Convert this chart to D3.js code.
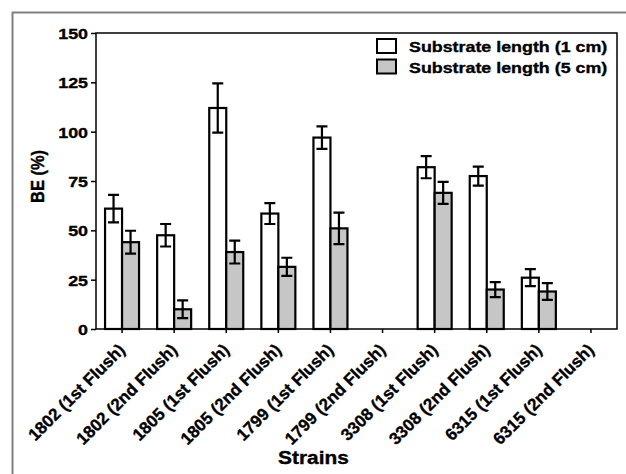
<!DOCTYPE html>
<html>
<head>
<meta charset="utf-8">
<script src="https://cdn.jsdelivr.net/npm/d3@7"></script>
<style>
  body { margin: 0; background: #fff; }
  text { font-family: "Liberation Sans", Arial, sans-serif; font-weight: bold; fill: #000; stroke: #000; stroke-width: 0.35px; }
</style>
</head>
<body>
<div id="visualization"></div>
<script>
var strains = ['1802 (1st Flush)', '1802 (2nd Flush)', '1805 (1st Flush)', '1805 (2nd Flush)',
  '1799 (1st Flush)', '1799 (2nd Flush)', '3308 (1st Flush)', '3308 (2nd Flush)',
  '6315 (1st Flush)', '6315 (2nd Flush)']
var series = ['Substrate length (1 cm)', 'Substrate length (5 cm)']
var len1 = [61, 47.5, 112, 58.5, 97, null, 82, 77.5, 26, null]
var err1 = [7, 5.7, 12.5, 5.3, 5.7, null, 5.6, 4.8, 4.3, null]
var len5 = [44, 10, 39, 31.5, 51, null, 69, 20, 19, null]
var err5 = [5.8, 4.5, 5.8, 4.6, 8, null, 5.6, 3.8, 4.2, null]
var yTicks = [0, 25, 50, 75, 100, 125, 150]

var colors = ['#ffffff', '#c6c6c6']
var sx = 1.16 // the picture's text is a little wider than it is tall

var width = 626
var height = 474
var plotLeft = 96
var plotRight = 617
var plotTop = 33
var plotBottom = 329

var svg = d3.select('#visualization')
  .append('svg')
  .attr('width', width)
  .attr('height', height)

// outer frame, only the top and left edges show
svg.append('path')
  .attr('d', 'M12.5,' + height + 'V12.5H' + width)
  .attr('fill', 'none')
  .attr('stroke', '#808080')
  .attr('stroke-width', 2)

var x = d3.scaleBand()
  .domain(strains)
  .range([plotLeft, plotRight])
  .padding(0)

var y = d3.scaleLinear()
  .domain([0, 150])
  .range([plotBottom, plotTop])

var barW = 17

var rows = strains.map(function (s, i) {
  return [
    {key: s, k: 0, value: len1[i], err: err1[i]},
    {key: s, k: 1, value: len5[i], err: err5[i]}
  ]
})
var bars = [].concat.apply([], rows).filter(function (d) { return d.value != null })

function barX (d) {
  var c = x(d.key) + x.bandwidth() / 2
  return d.k == 0 ? c - barW : c
}

var g = svg.append('g')

g.selectAll('.bar')
  .data(bars)
  .enter()
  .append('rect')
  .attr('class', 'bar')
  .attr('x', barX)
  .attr('y', function (d) { return y(d.value) })
  .attr('width', barW)
  .attr('height', function (d) { return y(0) - y(d.value) })
  .attr('fill', function (d) { return colors[d.k] })
  .attr('stroke', '#000')
  .attr('stroke-width', 2.2)

var errs = g.selectAll('.err')
  .data(bars)
  .enter()
  .append('g')
  .attr('class', 'err')
  .attr('stroke', '#000')
  .attr('stroke-width', 2.2)
  .attr('fill', 'none')

errs.append('path')
  .attr('d', function (d) {
    var cx = barX(d) + barW / 2
    var y1 = y(d.value + d.err)
    var y0 = y(d.value - d.err)
    return 'M' + cx + ',' + y0 + 'V' + y1 +
      'M' + (cx - 5.5) + ',' + y1 + 'H' + (cx + 5.5) +
      'M' + (cx - 5.5) + ',' + y0 + 'H' + (cx + 5.5)
  })

// plot box
svg.append('rect')
  .attr('x', plotLeft)
  .attr('y', plotTop)
  .attr('width', plotRight - plotLeft)
  .attr('height', plotBottom - plotTop)
  .attr('fill', 'none')
  .attr('stroke', '#000')
  .attr('stroke-width', 1.5)

var yAxis = svg.append('g')
  .attr('transform', 'translate(' + plotLeft + ',0)')
  .call(d3.axisLeft(y).tickValues(yTicks).tickSize(5).tickPadding(3))
yAxis.select('.domain').remove()
yAxis.selectAll('line').attr('stroke', '#000').attr('stroke-width', 1.5)
yAxis.selectAll('text')
  .attr('x', null)
  .attr('dy', null)
  .attr('transform', 'translate(-8,5.5) scale(' + sx + ',1)')
  .style('font-size', '15.4px')
  .style('font-family', '"Liberation Sans", Arial, sans-serif')

var xAxis = svg.append('g')
  .attr('transform', 'translate(0,' + plotBottom + ')')
  .call(d3.axisBottom(x).tickSize(4).tickPadding(0))
xAxis.select('.domain').remove()
xAxis.selectAll('line').attr('stroke', '#000').attr('stroke-width', 1.5)
xAxis.selectAll('text')
  .attr('y', null)
  .attr('dy', null)
  .attr('text-anchor', 'end')
  .attr('transform', 'translate(4,22) rotate(-45)')
  .style('font-size', '17px')
  .style('font-family', '"Liberation Sans", Arial, sans-serif')

svg.append('text')
  .attr('text-anchor', 'middle')
  .attr('transform', 'translate(313.5,464) scale(' + sx + ',1)')
  .style('font-size', '18px')
  .text('Strains')

svg.append('text')
  .attr('text-anchor', 'middle')
  .attr('transform', 'translate(44,176.5) scale(' + sx + ',1) rotate(-90)')
  .style('font-size', '16.4px')
  .text('BE (%)')

var legend = svg.selectAll('.legend')
  .data(series)
  .enter()
  .append('g')
  .attr('class', 'legend')
  .attr('transform', function (d, i) {
    return 'translate(377,' + (39 + i * 20.5) + ')'
  })

legend.append('rect')
  .attr('width', 19)
  .attr('height', 14)
  .attr('fill', function (d, i) { return colors[i] })
  .attr('stroke', '#000')
  .attr('stroke-width', 2)

legend.append('text')
  .attr('transform', 'translate(32,13) scale(' + sx + ',1)')
  .style('font-size', '15.4px')
  .text(function (d) { return d })
</script>
</body>
</html>
